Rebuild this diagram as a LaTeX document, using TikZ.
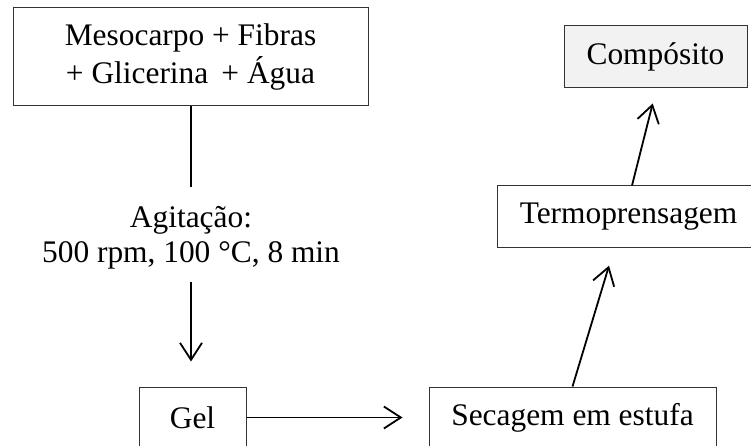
\documentclass[tikz,border=0pt]{standalone}
\usepackage{fontspec}
\setmainfont{Liberation Serif}
\usetikzlibrary{arrows.meta,calc}
\begin{document}
\begin{tikzpicture}[x=1pt,y=-1pt,
  every node/.style={font=\fontsize{31.4}{35}\selectfont, inner sep=0pt},
  stepbox/.style={draw=black!80, line width=1pt, rectangle, align=center},
  flow/.style={line width=1.8pt, -{Straight Barb[length=17pt,width=22pt,line width=1.8pt]}},
  link/.style={line width=1.8pt}]
  \clip (0,0) rectangle (751,446);
  \fill[white] (0,0) rectangle (751,446);

  % boxes
  \node[stepbox, font=\fontsize{31.4}{38.5}\selectfont, minimum width=355pt, minimum height=98pt] (mix) at (190.5,57)
    {Mesocarpo + Fibras\\+ Glicerina \,+ Água};
  \node[align=center] (agit) at (191,238) {Agitação:\\500 rpm, 100 °C, 8 min};
  \node[stepbox, minimum width=107pt, minimum height=61pt] (gel) at (192.5,417.5) {Gel};
  \node[stepbox, minimum width=287pt, minimum height=61pt] (sec) at (572.5,417.5) {Secagem em estufa};
  \node[stepbox, minimum width=263pt, minimum height=61pt] (term) at (628.5,216.5) {Termoprensagem};
  \node[stepbox, fill=black!5, minimum width=183pt, minimum height=62pt] (comp) at (655.5,57) {Compósito};

  % connectors
  \draw[link] (mix.south -| agit.north) -- ($(agit.north)+(0,-19)$);
  \draw[flow, shorten >=25pt] ($(agit.south)+(0,12)$) -- (agit.south |- gel.north);
  \draw[flow, shorten >=26pt] (gel.east) -- (gel.east -| sec.west);
  \draw[flow, shorten >=19pt] (sec.north) -- ($(term.south)+(-14,0)$);
  \draw[flow, shorten >=15.5pt] ($(term.north)+(3.5,0)$) -- ($(comp.south)+(1,0)$);
\end{tikzpicture}
\end{document}
